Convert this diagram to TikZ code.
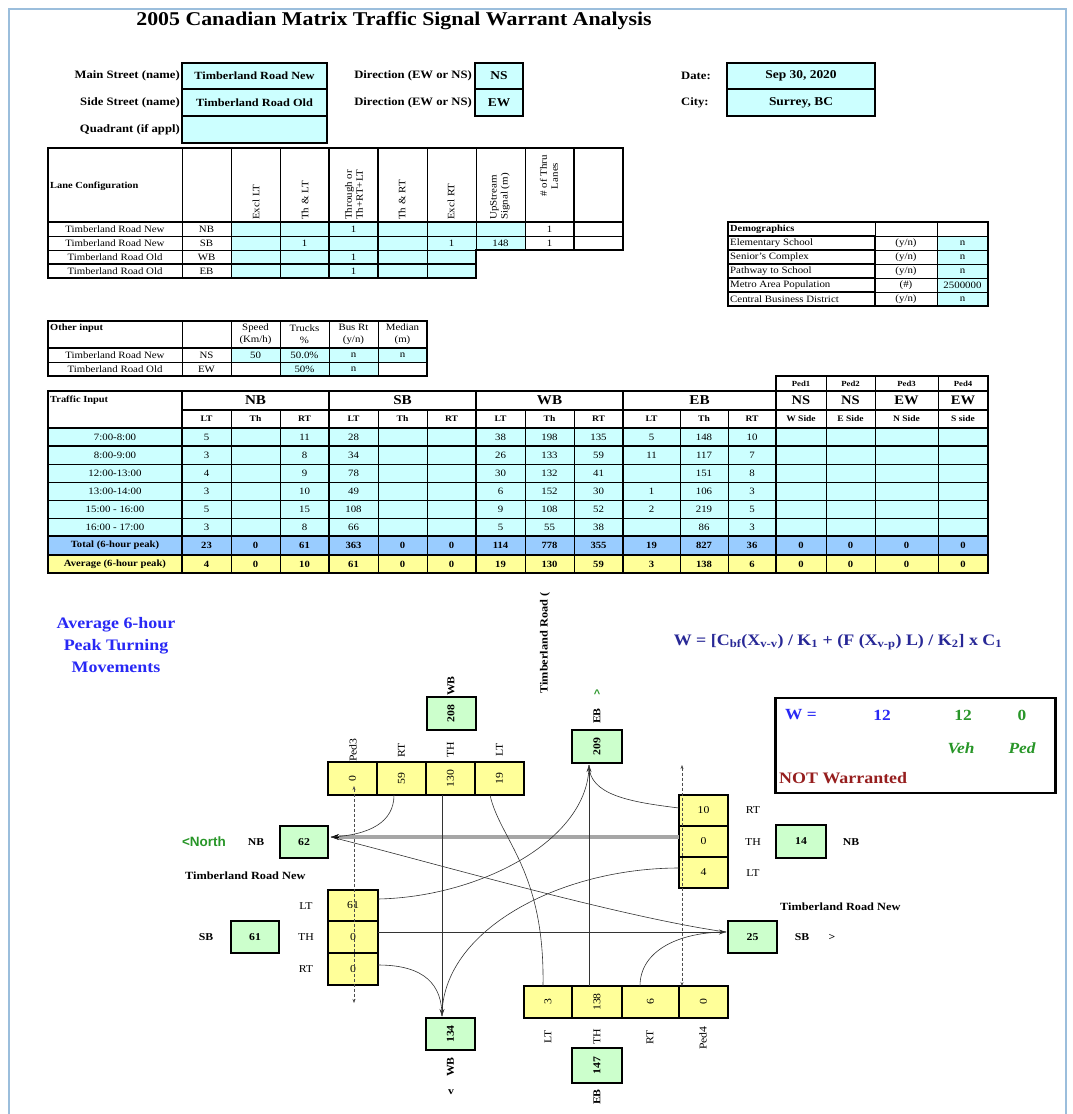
\documentclass[tikz,border=0pt]{standalone}
\usepackage{fontspec}
\usepackage{graphicx}
\setmainfont{Liberation Serif}[FakeStretch=1.12]
\newfontfamily\sansb{Liberation Sans}
\usetikzlibrary{arrows.meta}
\definecolor{cy}{RGB}{204,255,255}
\definecolor{gr}{RGB}{204,255,204}
\definecolor{ye}{RGB}{255,255,153}
\definecolor{bl}{RGB}{153,204,255}
\definecolor{framec}{RGB}{155,190,220}
\definecolor{tblue}{RGB}{40,40,245}
\definecolor{navy}{RGB}{40,40,150}
\definecolor{tgreen}{RGB}{40,150,40}
\definecolor{dred}{RGB}{150,30,30}
\newcommand\fsz[2][12]{\fontsize{#2}{#1}\selectfont}
\newcommand\cel[6]{\draw[cl,fill=#5] (#1,#2) rectangle (#3,#4); \node[ct] at ({(#1+#3)/2},{(#2+#4)/2}) {#6};}
\newcommand\celf[7]{\draw[cl,fill=#5] (#1,#2) rectangle (#3,#4); \node[ct,font={#7}] at ({(#1+#3)/2},{(#2+#4)/2}) {#6};}
\def\cx{{182,231,280,329,378,427,476,525,574,623,680,728,776,826,875,938,988}}
\newcommand\trow[6]{%
  \celf{48}{#1}{182}{#2}{#3}{#5}{#4}%
  \foreach \v [count=\i from 0] in {#6}{%
    \pgfmathsetmacro\xa{\cx[\i]}%
    \pgfmathsetmacro\xb{\cx[\i+1]}%
    \celf{\xa}{#1}{\xb}{#2}{#3}{\v}{#4}}}
\begin{document}
\begin{tikzpicture}[x=1pt,y=-1pt,
 cl/.style={draw=black,line width=0.8},
 ct/.style={font=\fsz{9.7},align=center,inner sep=0},
 tk/.style={draw=black,line width=2.2},
 rot/.style={rotate=90,font={\fsz[11]{9.8}},inner sep=0},
 gb/.style={draw=black,line width=2,fill=gr,font=\bfseries\fsz{10.5},inner sep=0},
 yb/.style={draw=black,line width=1.3,fill=ye,font=\fsz{10.5},inner sep=0},
 lab/.style={font=\fsz{10.5},inner sep=0},
 blab/.style={font=\bfseries\fsz{10.5},inner sep=0},
 mv/.style={draw=black!80,line width=0.6},
 arr/.style={-{Stealth[length=7pt,width=5pt]}},
 pedx/.style={draw=black!70,line width=0.5,dash pattern=on 3pt off 2pt,{Stealth[length=4pt,width=3pt]}-{Stealth[length=4pt,width=3pt]}},
 hb/.style={draw=black,line width=2,fill=cy,inner sep=0,font=\bfseries\fsz{11}},
 hl/.style={font=\bfseries\fsz{11.3},inner sep=0},
]
\useasboundingbox (0,0) rectangle (1073,1114);
\fill[white] (0,0) rectangle (1073,1114);
\draw[framec,line width=2] (9,1114) -- (9,9) -- (1066,9) -- (1066,1114);

% ---------- title and header
\node[font=\bfseries\fsz{19.5},inner sep=0] (title) at (394,21) {2005 Canadian Matrix Traffic Signal Warrant Analysis};
\node[hl,anchor=east] (mainl) at (180,76) {Main Street (name)};
\node[hl,anchor=east] (sidel) at (180,103) {Side Street (name)};
\node[hl,anchor=east] (quadl) at (180,130) {Quadrant (if appl)};
\node[hb,minimum width=145,minimum height=26] (mainb) at (254.5,76) {Timberland Road New};
\node[hb,minimum width=145,minimum height=27] (sideb) at (254.5,102.5) {Timberland Road Old};
\node[hb,minimum width=145,minimum height=27] (quadb) at (254.5,129.5) {};
\node[hl,anchor=east] (dirl1) at (472,76) {Direction (EW or NS)};
\node[hl,anchor=east] (dirl2) at (472,103) {Direction (EW or NS)};
\node[hb,minimum width=48,minimum height=26,font=\bfseries\fsz{12}] (dir1) at (499,76) {NS};
\node[hb,minimum width=48,minimum height=27,font=\bfseries\fsz{12}] (dir2) at (499,102.5) {EW};
\node[hl,anchor=west] (datel) at (681,76) {Date:};
\node[hl,anchor=west] (cityl) at (681,103) {City:};
\node[hb,minimum width=148,minimum height=26,font=\bfseries\fsz{12}] (date) at (801,76) {Sep 30, 2020};
\node[hb,minimum width=148,minimum height=27,font=\bfseries\fsz{12}] (city) at (801,102.5) {Surrey, BC};

% ---------- lane configuration
\foreach \xa/\xb in {48/182,182/231,231/280,280/329,329/378,378/427,427/476,476/525,525/574,574/623}{\draw[cl] (\xa,148) rectangle (\xb,222);}
\node[font=\bfseries\fsz{9.3},anchor=west,inner sep=0] (lanecfg) at (50,186) {Lane Configuration};
\node[rot,anchor=west] (h1) at (256,220) {Excl LT};
\node[rot,anchor=west] (h2) at (305,220) {Th \& LT};
\node[rot,anchor=west,align=left] (h3) at (354,220) {Through or\\Th+RT+LT};
\node[rot,anchor=west] (h4) at (402,220) {Th \& RT};
\node[rot,anchor=west] (h5) at (451,220) {Excl RT};
\node[rot,anchor=west,align=left] (h6) at (500,220) {UpStream\\Signal (m)};
\node[rot,anchor=east,align=center] (h7) at (549,155) {\# of Thru\\Lanes};
\cel{48}{222}{182}{236}{white}{Timberland Road New}\cel{182}{222}{231}{236}{white}{NB}
\cel{48}{236}{182}{250}{white}{Timberland Road New}\cel{182}{236}{231}{250}{white}{SB}
\cel{48}{250}{182}{264}{white}{Timberland Road Old}\cel{182}{250}{231}{264}{white}{WB}
\cel{48}{264}{182}{278}{white}{Timberland Road Old}\cel{182}{264}{231}{278}{white}{EB}
\cel{231}{222}{280}{236}{cy}{}\cel{280}{222}{329}{236}{cy}{}\cel{329}{222}{378}{236}{cy}{1}\cel{378}{222}{427}{236}{cy}{}\cel{427}{222}{476}{236}{cy}{}\cel{476}{222}{525}{236}{cy}{}\cel{525}{222}{574}{236}{white}{1}\cel{574}{222}{623}{236}{white}{}
\cel{231}{236}{280}{250}{cy}{}\cel{280}{236}{329}{250}{cy}{1}\cel{329}{236}{378}{250}{cy}{}\cel{378}{236}{427}{250}{cy}{}\cel{427}{236}{476}{250}{cy}{1}\cel{476}{236}{525}{250}{cy}{148}\cel{525}{236}{574}{250}{white}{1}\cel{574}{236}{623}{250}{white}{}
\cel{231}{250}{280}{264}{cy}{}\cel{280}{250}{329}{264}{cy}{}\cel{329}{250}{378}{264}{cy}{1}\cel{378}{250}{427}{264}{cy}{}\cel{427}{250}{476}{264}{cy}{}
\cel{231}{264}{280}{278}{cy}{}\cel{280}{264}{329}{278}{cy}{}\cel{329}{264}{378}{278}{cy}{1}\cel{378}{264}{427}{278}{cy}{}\cel{427}{264}{476}{278}{cy}{}
\draw[tk] (48,148) -- (623,148) -- (623,250) -- (476,250) -- (476,278) -- (48,278) -- cycle;
\draw[tk] (48,222) -- (623,222) (329,148) -- (329,278) (378,148) -- (378,278) (574,148) -- (574,250) (48,264) -- (476,264);

% ---------- demographics
\draw[cl] (728,222) rectangle (875,236); \draw[cl] (875,222) rectangle (937,236); \draw[cl] (937,222) rectangle (988,236);
\node[font=\bfseries\fsz{9.3},anchor=west,inner sep=0] (demo) at (730,229) {Demographics};
\foreach \ya/\t/\u/\w [count=\k] in {236/Elementary School/{(y/n)}/n,250/Senior's Complex/{(y/n)}/n,264/Pathway to School/{(y/n)}/n,278/Metro Area Population/{(\#)}/2500000,292/Central Business District/{(y/n)}/n}{
  \draw[cl,line width=1.1] (728,\ya) rectangle (875,\ya+14);
  \node[ct,anchor=west] (dl\k) at (730,\ya+7) {\t};
  \cel{875}{\ya}{937}{\ya+14}{white}{\u}
  \cel{937}{\ya}{988}{\ya+14}{cy}{\w}
}
\draw[tk,line width=1.6] (728,222) rectangle (988,306);

% ---------- other input
\draw[cl] (48,321) rectangle (182,348); \draw[cl] (182,321) rectangle (231,348);
\node[font=\bfseries\fsz{9.3},anchor=north west,inner sep=0] (oth) at (50,324) {Other input};
\cel{231}{321}{280}{348}{white}{Speed\\(Km/h)}
\cel{280}{321}{329}{348}{white}{Trucks\\\%}
\cel{329}{321}{378}{348}{white}{Bus Rt\\(y/n)}
\cel{378}{321}{427}{348}{white}{Median\\(m)}
\cel{48}{348}{182}{362}{white}{Timberland Road New}\cel{182}{348}{231}{362}{white}{NS}
\cel{231}{348}{280}{362}{cy}{50}\cel{280}{348}{329}{362}{cy}{50.0\%}\cel{329}{348}{378}{362}{cy}{n}\cel{378}{348}{427}{362}{cy}{n}
\cel{48}{362}{182}{376}{white}{Timberland Road Old}\cel{182}{362}{231}{376}{white}{EW}
\cel{231}{362}{280}{376}{white}{}\cel{280}{362}{329}{376}{cy}{50\%}\cel{329}{362}{378}{376}{cy}{n}\cel{378}{362}{427}{376}{white}{}
\draw[tk] (48,321) rectangle (427,376); \draw[tk] (48,348) -- (427,348);

% ---------- traffic input
\foreach \xa/\xb/\t in {776/826/Ped1,826/875/Ped2,875/938/Ped3,938/988/Ped4}{\celf{\xa}{376}{\xb}{391}{white}{\t}{\bfseries\fsz{7.8}}}
\draw[cl] (48,391) rectangle (182,428);
\node[font=\bfseries\fsz{9.3},anchor=west,inner sep=0] (trin) at (50,400) {Traffic Input};
\foreach \xa/\xb/\t in {182/329/NB,329/476/SB,476/623/WB,623/776/EB}{\celf{\xa}{391}{\xb}{410}{white}{\t}{\bfseries\fsz{13.5}}}
\foreach \xa/\xb/\t in {776/826/NS,826/875/NS,875/938/EW,938/988/EW}{\celf{\xa}{391}{\xb}{410}{white}{\t}{\bfseries\fsz{13}}}
\foreach \t [count=\i from 0] in {LT,Th,RT,LT,Th,RT,LT,Th,RT,LT,Th,RT,W Side,E Side,N Side,S side}{
  \pgfmathsetmacro\xa{\cx[\i]}\pgfmathsetmacro\xb{\cx[\i+1]}
  \celf{\xa}{410}{\xb}{428}{white}{\t}{\bfseries\fsz{8.5}}}
\trow{428}{446}{cy}{\fsz{9.7}}{7:00-8:00}{5,{},11,28,{},{},38,198,135,5,148,10,{},{},{},{}}
\trow{446}{464}{cy}{\fsz{9.7}}{8:00-9:00}{3,{},8,34,{},{},26,133,59,11,117,7,{},{},{},{}}
\trow{464}{482}{cy}{\fsz{9.7}}{12:00-13:00}{4,{},9,78,{},{},30,132,41,{},151,8,{},{},{},{}}
\trow{482}{500}{cy}{\fsz{9.7}}{13:00-14:00}{3,{},10,49,{},{},6,152,30,1,106,3,{},{},{},{}}
\trow{500}{518}{cy}{\fsz{9.7}}{15:00 - 16:00}{5,{},15,108,{},{},9,108,52,2,219,5,{},{},{},{}}
\trow{518}{536}{cy}{\fsz{9.7}}{16:00 - 17:00}{3,{},8,66,{},{},5,55,38,{},86,3,{},{},{},{}}
\trow{536}{555}{bl}{\bfseries\fsz{9.5}}{Total (6-hour peak)}{23,0,61,363,0,0,114,778,355,19,827,36,0,0,0,0}
\trow{555}{573}{ye}{\bfseries\fsz{9.5}}{Average (6-hour peak)}{4,0,10,61,0,0,19,130,59,3,138,6,0,0,0,0}
\draw[tk] (48,391) -- (776,391) -- (776,376) -- (988,376) -- (988,573) -- (48,573) -- cycle;
\draw[tk] (776,391) -- (988,391) (182,410) -- (988,410) (48,428) -- (988,428) (48,446) -- (988,446) (48,536) -- (988,536) (48,555) -- (988,555);
\foreach \x in {182,329,476,623,776}{\draw[tk] (\x,391) -- (\x,573);}

% ---------- captions
\node[font={\bfseries\fsz[22]{16}},text=tblue,align=center,inner sep=0] (avg) at (116,645) {Average 6-hour\\Peak Turning\\Movements};
\node[font=\bfseries\fsz{16},text=navy,inner sep=0] (formula) at (838,642) {W = [C\textsubscript{bf}(X\textsubscript{v-v}) / K\textsubscript{1} + (F (X\textsubscript{v-p}) L) / K\textsubscript{2}] x C\textsubscript{1}};
\node[font=\bfseries\fsz{11},rotate=90,inner sep=0] (tro) at (545,643) {Timberland Road (};

% ---------- W box
\node[draw=black,line width=2.5,minimum width=280,minimum height=95,inner sep=0] (wbox) at (915.5,745.5) {};
\node[font=\bfseries\fsz{15.5},text=tblue,inner sep=0] (weq) at (801,715) {W =};
\node[font=\bfseries\fsz{15.5},text=tblue,inner sep=0] (wv) at (882,715) {12};
\node[font=\bfseries\fsz{15.5},text=tgreen,inner sep=0] (wveh) at (963,715) {12};
\node[font=\bfseries\fsz{15.5},text=tgreen,inner sep=0] (wped) at (1022,715) {0};
\node[font=\bfseries\itshape\fsz{15.5},text=tgreen,inner sep=0] (lveh) at (961,748) {Veh};
\node[font=\bfseries\itshape\fsz{15.5},text=tgreen,inner sep=0] (lped) at (1022,748) {Ped};
\node[font=\bfseries\fsz{16},text=dred,anchor=west,inner sep=0] (notw) at (779,778) {NOT Warranted};

% ---------- intersection diagram: boxes
\node[gb,minimum width=49,minimum height=33] (g208) at (451,713.5) {\rotatebox{90}{208}};
\node[gb,minimum width=50,minimum height=33] (g209) at (597,746.5) {\rotatebox{90}{209}};
\node[gb,minimum width=48,minimum height=32] (g62) at (304,842) {62};
\node[gb,minimum width=50,minimum height=33] (g14) at (801,841.5) {14};
\node[gb,minimum width=48,minimum height=32] (g61) at (255,937) {61};
\node[gb,minimum width=49,minimum height=32] (g25) at (752.5,937) {25};
\node[gb,minimum width=49,minimum height=32] (g134) at (450.5,1034) {\rotatebox{90}{134}};
\node[gb,minimum width=50,minimum height=35] (g147) at (597,1065.5) {\rotatebox{90}{147}};

\node[yb,minimum width=49,minimum height=33,line width=2] (tped) at (352.5,778.5) {\rotatebox{90}{0}};
\node[yb,minimum width=49,minimum height=33] (trt) at (401.5,778.5) {\rotatebox{90}{59}};
\node[yb,minimum width=49,minimum height=33] (tth) at (450.5,778.5) {\rotatebox{90}{130}};
\node[yb,minimum width=49,minimum height=33] (tlt) at (499.5,778.5) {\rotatebox{90}{19}};
\node[yb,minimum width=49,minimum height=31] (rrt) at (703.5,810.5) {10};
\node[yb,minimum width=49,minimum height=31] (rth) at (703.5,841.5) {0};
\node[yb,minimum width=49,minimum height=31] (rlt) at (703.5,872.5) {4};
\node[yb,minimum width=50,minimum height=31] (llt) at (353,905.5) {61};
\node[yb,minimum width=50,minimum height=32] (lth) at (353,937) {0};
\node[yb,minimum width=50,minimum height=32] (lrt) at (353,969) {0};
\node[yb,minimum width=48,minimum height=32] (blt) at (548,1002) {\rotatebox{90}{3}};
\node[yb,minimum width=50,minimum height=32] (bth) at (597,1002) {\rotatebox{90}{138}};
\node[yb,minimum width=57,minimum height=32] (brt) at (650.5,1002) {\rotatebox{90}{6}};
\node[yb,minimum width=49,minimum height=32] (bped) at (703.5,1002) {\rotatebox{90}{0}};

% labels
\node[lab,rotate=90] (ltp3) at (353,750) {Ped3};
\node[lab,rotate=90] (ltrt) at (401.5,750) {RT};
\node[lab,rotate=90] (ltth) at (450.5,750) {TH};
\node[lab,rotate=90] (ltlt) at (499.5,750) {LT};
\node[blab,rotate=90] (lwb1) at (451,686) {WB};
\node[blab,rotate=90] (leb1) at (597,716) {EB};
\node[font=\sansb\bfseries\fsz{11},text=tgreen,inner sep=0] (up) at (597,694) {\textasciicircum};
\node[lab] (lrrt) at (753,810) {RT};
\node[lab] (lrth) at (753,842) {TH};
\node[lab] (lrlt) at (753,873) {LT};
\node[blab] (lnb2) at (851,842) {NB};
\node[lab] (lllt) at (306,906) {LT};
\node[lab] (llth) at (306,937) {TH};
\node[lab] (llrt) at (306,969) {RT};
\node[blab] (lsb1) at (206,937) {SB};
\node[blab] (lnb1) at (256,842) {NB};
\node[font=\sansb\bfseries\fsz{13.5},text=tgreen,inner sep=0] (north) at (204,842) {<North};
\node[font=\bfseries\fsz{11},anchor=west,inner sep=0] (trn1) at (185,876) {Timberland Road New};
\node[font=\bfseries\fsz{11},anchor=west,inner sep=0] (trn2) at (780,907) {Timberland Road New};
\node[blab] (lsb2) at (802,937) {SB};
\node[blab] (gt) at (832,937) {>};
\node[lab,rotate=90] (lblt) at (548,1037) {LT};
\node[lab,rotate=90] (lbth) at (597,1037) {TH};
\node[lab,rotate=90] (lbrt) at (650,1037) {RT};
\node[lab,rotate=90] (lbp4) at (703,1038) {Ped4};
\node[blab,rotate=90] (lwb2) at (450.5,1067) {WB};
\node[blab] (dn) at (451,1092) {v};
\node[blab,rotate=90] (leb2) at (597,1097) {EB};

% connector end points
\coordinate (a62) at (331,837);
\coordinate (a62b) at (339,837);
\coordinate (a25) at (726,932);
\coordinate (a209) at (589,765);
\coordinate (a134) at (442,1016);
\coordinate (s59) at (394,795);
\coordinate (s130) at (442,795);
\coordinate (s19) at (490,795);
\coordinate (s10) at (679,808);
\coordinate (s0r) at (679,837);
\coordinate (s4) at (679,868);
\coordinate (s61) at (378,899);
\coordinate (s0l) at (378,932);
\coordinate (s0rt) at (378,965);
\coordinate (s3) at (543,986);
\coordinate (s138) at (589,986);
\coordinate (s6) at (640,986);
\coordinate (p3a) at (354,786);
\coordinate (p3b) at (354,1003);
\coordinate (p4a) at (682,765);
\coordinate (p4b) at (682,986);

% connectors
\draw[pedx] (p3a) -- (p3b);
\draw[pedx] (p4a) -- (p4b);
\draw[draw=black!35,line width=3.5] (s0r) -- (a62b);
\draw[-{Stealth[length=8pt,width=6pt]},line width=0.5] (a62b) -- (a62);
\draw[mv,arr,line width=0.9] (s0l) -- (a25);
\draw[mv,arr] (s130) -- (a134);
\draw[mv,arr] (s138) -- (a209);
\draw[mv] (s59) .. controls (394,822) and (370,835) .. (a62);
\draw[mv] (s19) .. controls (500,840) and (545,870) .. (s3);
\draw[mv] (a62) .. controls (430,862) and (620,917) .. (a25);
\draw[mv] (s10) .. controls (630,802) and (589,795) .. (a209);
\draw[mv] (s4) .. controls (560,868) and (442,930) .. (a134);
\draw[mv] (s61) .. controls (480,897) and (589,840) .. (a209);
\draw[mv] (s0rt) .. controls (425,965) and (442,985) .. (a134);
\draw[mv] (s6) .. controls (640,950) and (680,932) .. (a25);
\end{tikzpicture}
\end{document}
